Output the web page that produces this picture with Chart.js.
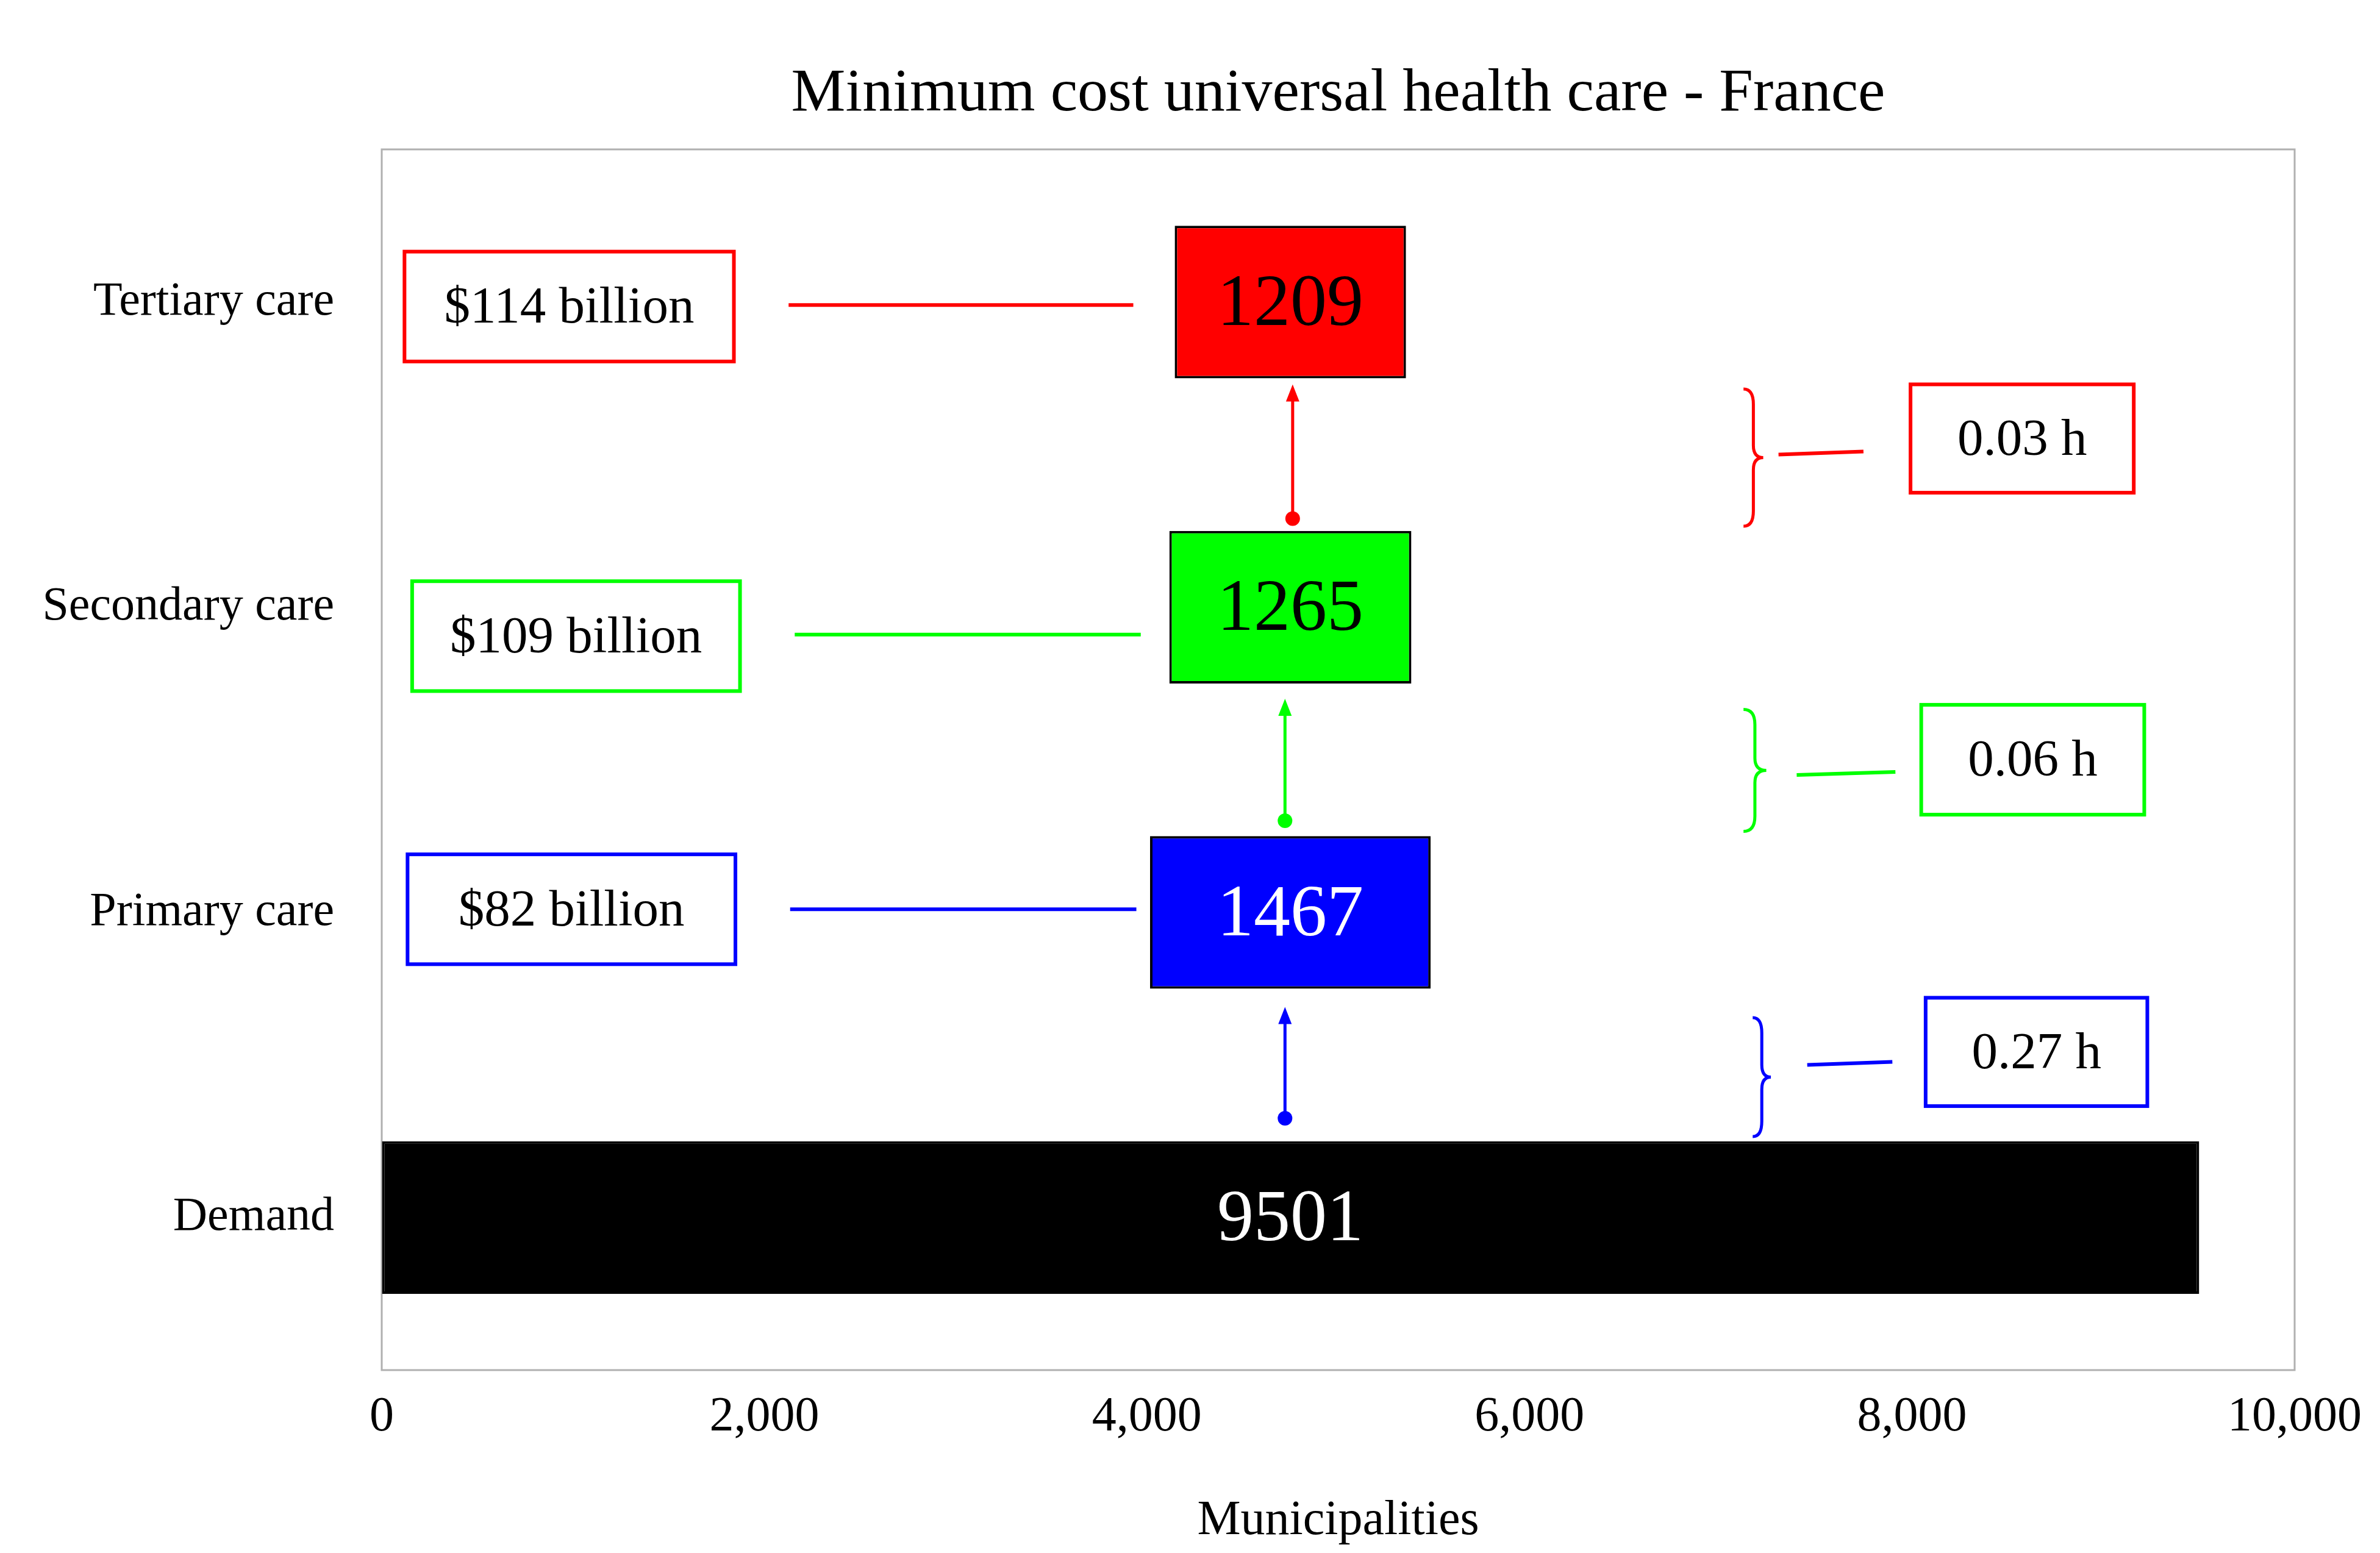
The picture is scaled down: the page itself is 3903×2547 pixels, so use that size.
<!DOCTYPE html>
<html><head><meta charset="utf-8">
<script src="https://cdn.jsdelivr.net/npm/chart.js@4"></script>
<style>html,body{margin:0;padding:0;background:#fff}#w{width:3903px;height:2547px}</style>
</head><body><div id="w"><canvas id="c" width="3903" height="2547"></canvas></div>
<script>
const categories = ["Tertiary care","Secondary care","Primary care","Demand"];
const counts = [1209, 1265, 1467, 9501];
const barCentre = [4750, 4750, 4750, 4750];
const barColors = ["#ff0000","#00ff00","#0000ff","#000000"];
const labelColors = ["#000","#000","#fff","#fff"];
const costLabels = ["$114 billion","$109 billion","$82 billion"];
const timeLabels = ["0.03 h","0.06 h","0.27 h"];
const levelColors = ["#ff0000","#00ff00","#0000ff"];
const xTicks = [0,2000,4000,6000,8000,10000];

// annotation geometry in data units (x: municipalities, y: category index)
const costBoxX = [[119,1841],[159,1873],[135,1849]];
const costBoxY = [[-0.165,0.195],[0.915,1.275],[1.81,2.17]];
const costLineX = [[2127,3929],[2159,3968],[2135,3945]];
const costLineY = [0.01,1.09,1.99];
const arrowX = [4762,4722,4722];
const arrowY = [[0.71,0.27],[1.70,1.30],[2.675,2.31]];
const braceX = [[7119,7222],[7119,7238],[7167,7262]];
const braceY = [[0.285,0.735],[1.335,1.735],[2.345,2.735]];
const tLineX = [[7302,7746],[7397,7913],[7452,7897]];
const tLineY = [[0.5,0.49],[1.55,1.54],[2.5,2.49]];
const tBoxX = [[7992,9159],[8048,9214],[8071,9230]];
const tBoxY = [[0.27,0.625],[1.32,1.68],[2.28,2.635]];

const FONT = "'Liberation Serif','DejaVu Serif',serif";
const ranges = counts.map((v,i)=> i===3 ? [0, v] : [barCentre[i]-v/2, barCentre[i]+v/2]);

const deco = {
  id:'deco',
  beforeDatasetsDraw(chart){
    const ctx=chart.ctx, a=chart.chartArea;
    ctx.save(); ctx.strokeStyle='#b0b0b0'; ctx.lineWidth=3;
    ctx.strokeRect(a.left,a.top,a.right-a.left,a.bottom-a.top); ctx.restore();
  },
  afterDatasetsDraw(chart){
    const ctx=chart.ctx, xs=chart.scales.x, ys=chart.scales.y;
    const X=v=>xs.getPixelForValue(v), Y=v=>ys.getPixelForValue(v);
    ctx.save();
    // title
    ctx.fillStyle='#000'; ctx.font='100px '+FONT; ctx.textAlign='center'; ctx.textBaseline='middle';
    ctx.fillText('Minimum cost universal health care - France',(chart.chartArea.left+chart.chartArea.right)/2,155);
    // bar labels
    ctx.font='120px '+FONT;
    counts.forEach((v,i)=>{ctx.fillStyle=labelColors[i]; ctx.fillText(String(v),X(barCentre[i]),Y(i)+6);});
    for(let i=0;i<3;i++){
      const c=levelColors[i];
      ctx.strokeStyle=c; ctx.fillStyle=c; ctx.lineWidth=6;
      // cost box
      const bx=X(costBoxX[i][0]), by=Y(costBoxY[i][0]), bw=X(costBoxX[i][1])-bx, bh=Y(costBoxY[i][1])-by;
      ctx.strokeRect(bx,by,bw,bh);
      ctx.fillStyle='#000'; ctx.font='85px '+FONT;
      ctx.fillText(costLabels[i],bx+bw/2,by+bh/2+4);
      // cost line
      ctx.beginPath(); ctx.moveTo(X(costLineX[i][0]),Y(costLineY[i])); ctx.lineTo(X(costLineX[i][1]),Y(costLineY[i])); ctx.stroke();
      // arrow
      const ax=X(arrowX[i]), y0=Y(arrowY[i][0]), y1=Y(arrowY[i][1]);
      ctx.fillStyle=c; ctx.lineWidth=5;
      ctx.beginPath(); ctx.moveTo(ax,y0); ctx.lineTo(ax,y1+20); ctx.stroke();
      ctx.beginPath(); ctx.arc(ax,y0,12,0,Math.PI*2); ctx.fill();
      ctx.beginPath(); ctx.moveTo(ax,y1); ctx.lineTo(ax-11,y1+28); ctx.lineTo(ax+11,y1+28); ctx.closePath(); ctx.fill();
      // brace
      const l=X(braceX[i][0]), r=X(braceX[i][1]), t=Y(braceY[i][0]), b=Y(braceY[i][1]), m=(t+b)/2, mid=(l+r)/2;
      ctx.lineWidth=5;
      ctx.beginPath();
      ctx.moveTo(l,t); ctx.quadraticCurveTo(mid,t,mid,t+25); ctx.lineTo(mid,m-20); ctx.quadraticCurveTo(mid,m,r,m);
      ctx.quadraticCurveTo(mid,m,mid,m+20); ctx.lineTo(mid,b-25); ctx.quadraticCurveTo(mid,b,l,b);
      ctx.stroke();
      // time line
      ctx.lineWidth=6;
      ctx.beginPath(); ctx.moveTo(X(tLineX[i][0]),Y(tLineY[i][0])); ctx.lineTo(X(tLineX[i][1]),Y(tLineY[i][1])); ctx.stroke();
      // time box
      const tx=X(tBoxX[i][0]), ty=Y(tBoxY[i][0]), tw=X(tBoxX[i][1])-tx, th=Y(tBoxY[i][1])-ty;
      ctx.strokeRect(tx,ty,tw,th);
      ctx.fillStyle='#000'; ctx.font='85px '+FONT;
      ctx.fillText(timeLabels[i],tx+tw/2,ty+th/2+4);
    }
    ctx.restore();
  }
};

new Chart(document.getElementById('c'),{
  type:'bar',
  data:{labels:categories,datasets:[{data:ranges,backgroundColor:barColors,borderColor:'#000',borderWidth:4,borderSkipped:false,barPercentage:0.5,categoryPercentage:1}]},
  options:{
    indexAxis:'y',responsive:false,animation:false,devicePixelRatio:1,
    layout:{padding:{top:245,right:125,left:0,bottom:0}},
    plugins:{legend:{display:false},tooltip:{enabled:false}},
    scales:{
      x:{type:'linear',min:0,max:10000,
        afterBuildTicks(s){s.ticks=xTicks.map(v=>({value:v}));},
        afterFit(s){s.height=300;},
        grid:{display:true,drawOnChartArea:false,color:'#b0b0b0',tickLength:0},
        border:{display:false},
        ticks:{font:{family:FONT,size:80},color:'#000',padding:30,maxRotation:0},
        title:{display:true,text:'Municipalities',font:{family:FONT,size:80},color:'#000',padding:{top:20}}},
      y:{afterFit(s){s.width=626;},
        grid:{display:false},border:{display:false},
        ticks:{font:{family:FONT,size:78},color:'#000',padding:70}}
    }
  },
  plugins:[deco]
});
</script></body></html>
